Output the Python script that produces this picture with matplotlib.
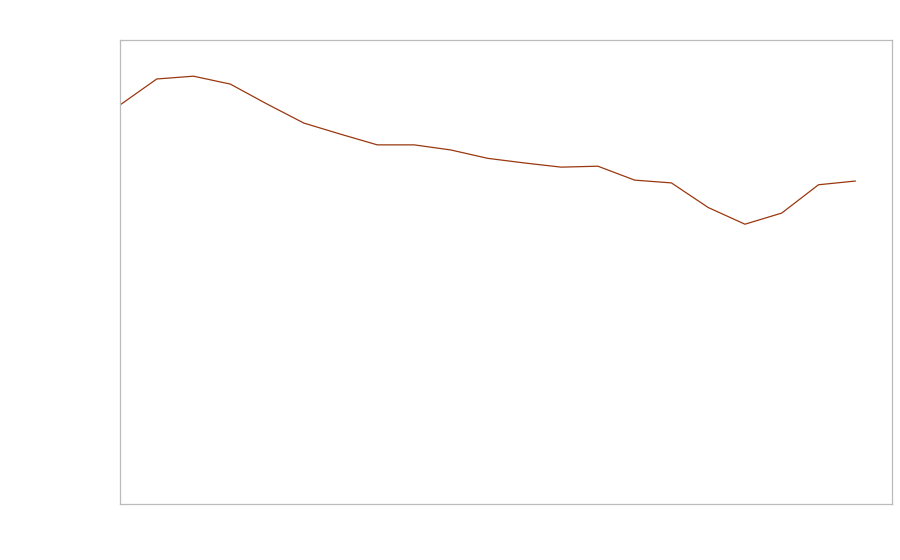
import matplotlib
matplotlib.use("Agg")
import matplotlib.pyplot as plt

periods = list(range(21))
values = [86.0, 91.6, 92.2, 90.5, 86.2, 82.1, 79.7, 77.4, 77.4, 76.3, 74.5,
          73.5, 72.6, 72.8, 69.8, 69.2, 63.9, 60.3, 62.7, 68.8, 69.6]

fig = plt.figure(figsize=(9, 5.6), dpi=100)
ax = fig.add_axes([120/900, 56/560, (892-120)/900, (504-40)/560])
ax.plot(periods, values, color="#99380f", linewidth=0.9)
ax.set_xlim(0, 21)
ax.set_ylim(0, 100)
ax.set_xticks([])
ax.set_yticks([])
for s in ax.spines.values():
    s.set_color("#bbbbbb")
    s.set_linewidth(0.9)
fig.savefig("out.png", dpi=100)
